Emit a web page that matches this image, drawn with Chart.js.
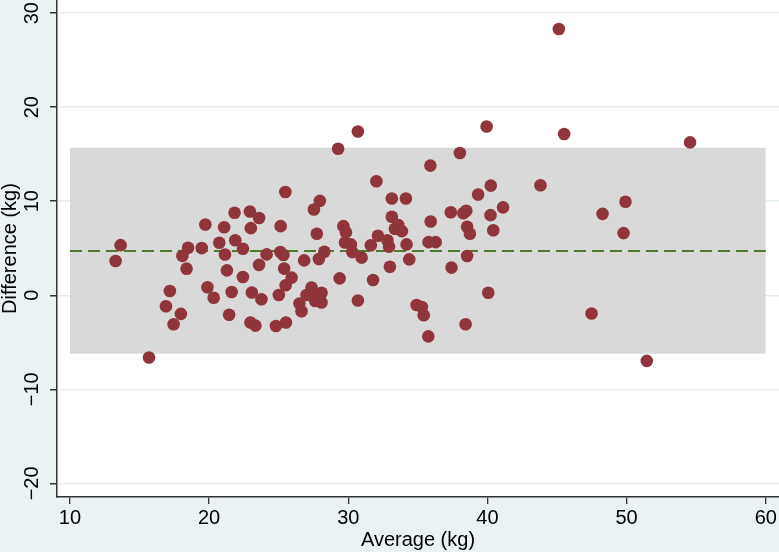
<!DOCTYPE html>
<html>
<head>
<meta charset="utf-8">
<script src="https://cdn.jsdelivr.net/npm/chart.js"></script>
<style>
  html, body { margin: 0; padding: 0; background: #EAF2F3; }
  #wrap { width: 779px; height: 552px; }
</style>
</head>
<body>
<div id="wrap"><canvas id="c" width="779" height="552"></canvas></div>
<script>
// Average of the two measurements (kg)
const avgKg = [13.28,13.64,15.68,17.18,16.90,17.97,17.45,18.38,18.08,18.49,
  19.47,19.73,19.88,20.33,20.73,21.08,21.14,21.28,21.62,21.44,
  21.83,21.88,22.43,22.43,22.93,23.00,23.07,22.97,23.33,23.59,
  23.76,24.13,23.59,25.14,25.48,25.12,25.34,25.39,25.93,25.50,
  25.01,24.80,25.52,26.49,26.64,26.83,27.00,27.36,27.48,27.62,
  28.08,28.08,27.53,27.96,27.74,27.89,28.28,29.38,29.27,29.65,
  29.83,29.76,30.19,30.29,30.69,30.96,30.69,31.62,31.78,32.02,
  32.13,32.81,32.93,32.99,33.13,33.13,33.59,33.35,33.85,34.14,
  34.19,34.38,34.91,35.29,35.42,35.75,35.90,35.92,35.77,36.28,
  37.37,37.42,38.02,38.27,38.48,38.54,38.74,38.54,38.43,39.33,
  39.94,40.24,40.22,40.42,40.06,41.12,43.81,45.13,45.51,47.48,
  48.27,49.78,49.92,51.45,54.56];
// Difference between the two measurements (kg)
const diffKg = [3.64,5.33,-6.61,0.46,-1.17,-1.98,-3.08,2.83,4.19,5.06,
  5.02,7.53,0.85,-0.27,5.59,7.24,4.33,2.65,0.35,-2.07,
  8.77,5.86,4.95,1.94,8.91,7.14,0.29,-2.90,-3.23,8.22,
  -0.42,4.35,3.23,7.35,10.98,4.61,4.29,2.84,1.88,1.06,
  0.03,-3.26,-2.90,-0.88,-1.70,3.71,0.03,0.82,-0.07,-0.60,
  0.27,-0.77,9.12,10.04,6.54,3.85,4.63,1.80,15.59,7.35,
  6.71,5.62,5.41,4.59,17.42,4.00,-0.55,5.32,1.62,12.12,
  6.33,5.85,5.17,3.04,10.29,8.35,7.48,7.07,6.82,10.29,
  5.41,3.82,-1.03,-1.25,-2.12,-4.37,13.79,7.85,5.65,5.65,
  8.83,2.94,15.13,8.73,8.99,7.29,6.54,4.17,-3.08,10.71,
  17.95,11.66,8.52,6.92,0.27,9.35,11.70,28.31,17.15,-1.94,
  8.66,6.61,9.94,-6.97,16.26];
// Mean difference and limits of agreement
const meanDiff = [4.72];
const limitsOfAgreement = [15.68, -6.22];
const bandRange = [10, 60];
// Tick values
const xTicks = [10, 20, 30, 40, 50, 60];
const yTicks = [-20, -10, 0, 10, 20, 30];

const FONT = "'Liberation Sans', Arial, Helvetica, sans-serif";
const fmt = v => v < 0 ? '\u2212' + Math.abs(v) : String(v);

const bgPlugin = {
  id: 'bgAndYLabels',
  beforeDraw(chart) {
    const {ctx, chartArea: a} = chart;
    ctx.save();
    ctx.fillStyle = '#EAF2F3';
    ctx.fillRect(0, 0, chart.width, chart.height);
    ctx.fillStyle = '#FFFFFF';
    ctx.fillRect(a.left, a.top, a.right - a.left, a.bottom - a.top);
    ctx.restore();
  },
  afterDraw(chart) {
    const {ctx} = chart;
    const s = chart.scales.y;
    ctx.save();
    ctx.fillStyle = '#000';
    ctx.font = '20px ' + FONT;
    yTicks.forEach(v => {
      const y = s.getPixelForValue(v);
      ctx.save();
      ctx.translate(38, y);
      ctx.rotate(-Math.PI / 2);
      ctx.textAlign = 'center';
      ctx.textBaseline = 'alphabetic';
      ctx.fillText(fmt(v), 0, 0);
      ctx.restore();
    });
    ctx.restore();
  }
};

const points = avgKg.map((x, i) => ({x: x, y: diffKg[i]}));
const line = v => [{x: bandRange[0], y: v}, {x: bandRange[1], y: v}];

new Chart(document.getElementById('c'), {
  type: 'scatter',
  data: {
    datasets: [
      {type: 'scatter', data: points, backgroundColor: '#90353B', borderWidth: 0,
       pointRadius: 6.3, pointHoverRadius: 6.3, order: 0},
      {type: 'line', data: line(meanDiff[0]), borderColor: '#4F7A2C', borderWidth: 2,
       borderDash: [12, 6], pointRadius: 0, fill: false, order: 1},
      {type: 'line', data: line(limitsOfAgreement[0]), borderWidth: 0, borderColor: 'rgba(0,0,0,0)',
       pointRadius: 0, fill: '+1', backgroundColor: '#D9D9D9', order: 2},
      {type: 'line', data: line(limitsOfAgreement[1]), borderWidth: 0, borderColor: 'rgba(0,0,0,0)',
       pointRadius: 0, fill: false, order: 3}
    ]
  },
  options: {
    responsive: false,
    animation: false,
    devicePixelRatio: 1,
    layout: {padding: 0, autoPadding: false},
    plugins: {legend: {display: false}, tooltip: {enabled: false}},
    scales: {
      x: {
        type: 'linear', min: 9.07, max: 60.95,
        afterBuildTicks: s => { s.ticks = xTicks.map(v => ({value: v})); },
        afterFit: s => { s.height = 55; },
        grid: {drawOnChartArea: false, drawTicks: true, tickLength: 7, color: '#333', lineWidth: 1.3},
        border: {display: true, color: '#333', width: 1.5},
        ticks: {font: {family: FONT, size: 20}, color: '#000', padding: 2, maxRotation: 0, autoSkip: false,
                callback: v => fmt(v)},
        title: {display: true, text: 'Average (kg)', font: {family: FONT, size: 20}, color: '#000',
                padding: {top: 0, bottom: 0}}
      },
      y: {
        type: 'linear', min: -21.45, max: 31.4,
        afterBuildTicks: s => { s.ticks = yTicks.map(v => ({value: v})); },
        afterFit: s => { s.width = 57; },
        grid: {color: '#E3EDEF', lineWidth: 1.5, tickColor: '#333', tickLength: 7, drawTicks: true},
        border: {display: true, color: '#333', width: 1.5},
        ticks: {display: false},
        title: {display: true, text: 'Difference (kg)', font: {family: FONT, size: 20}, color: '#000',
                padding: {top: -2, bottom: 0}}
      }
    }
  },
  plugins: [bgPlugin]
});
</script>
</body>
</html>
